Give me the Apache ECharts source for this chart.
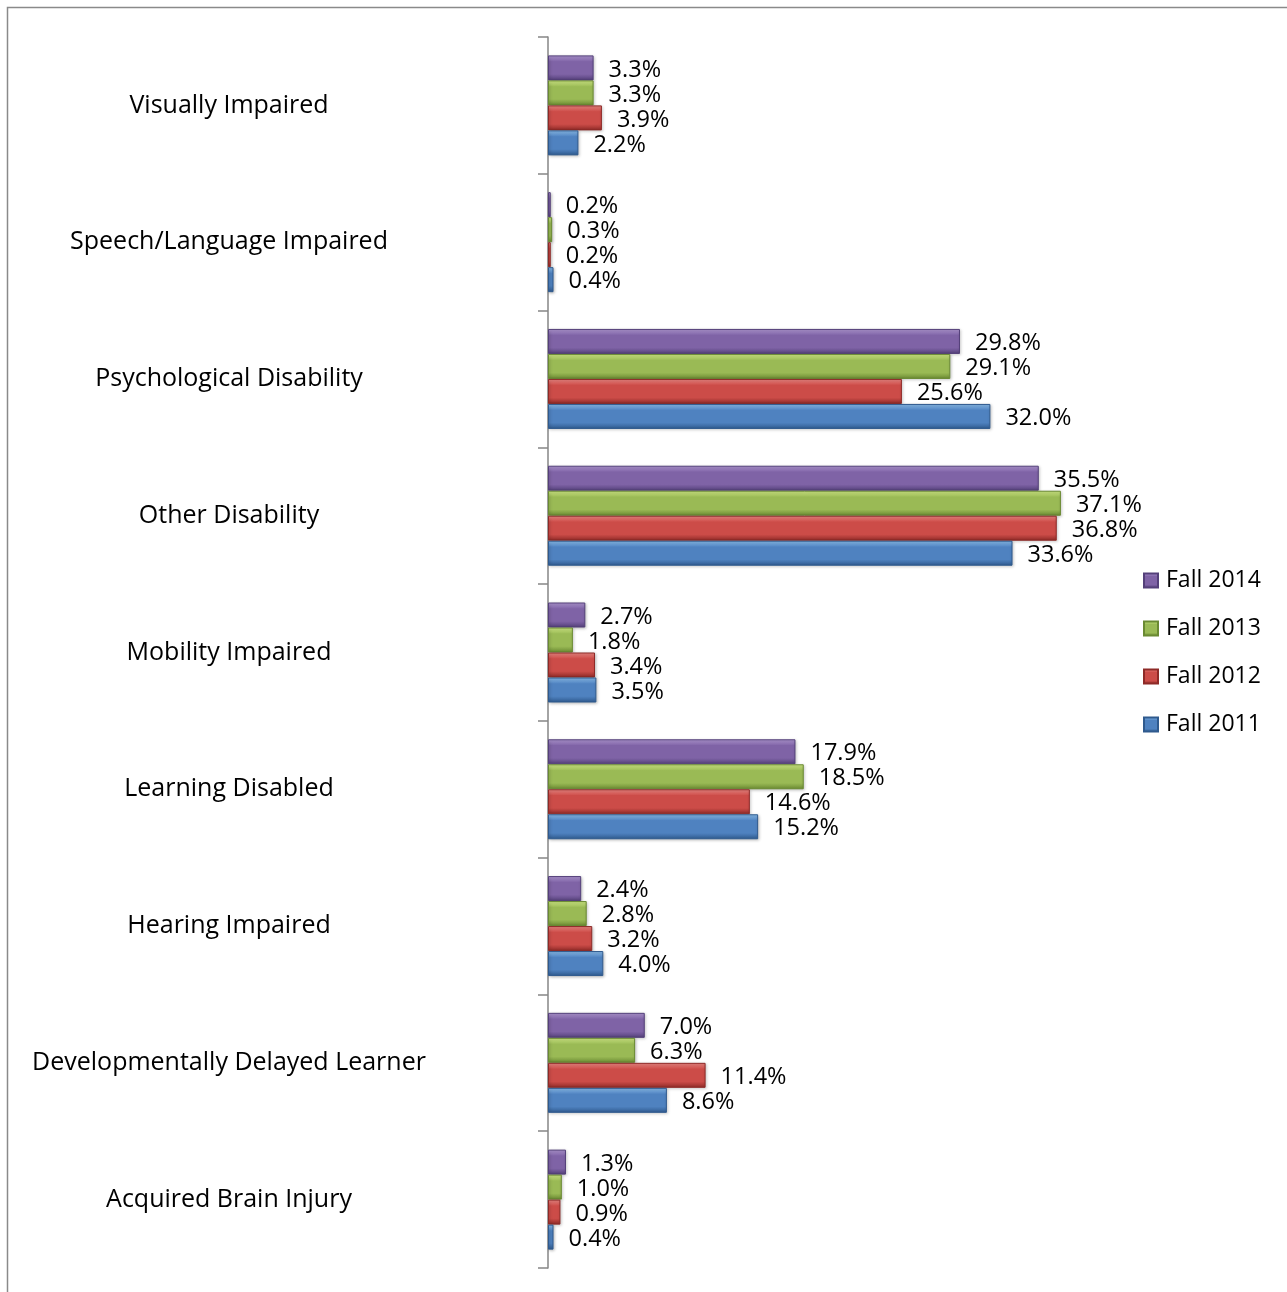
<!DOCTYPE html>
<html><head><meta charset="utf-8">
<script src="https://cdn.jsdelivr.net/npm/echarts@6/dist/echarts.min.js"></script>
<style>html,body{margin:0;padding:0;background:#fff}#c{width:1287px;height:1292px}</style>
</head><body><div id="c"></div>
<script>
const categories = ["Visually Impaired","Speech/Language Impaired","Psychological Disability","Other Disability","Mobility Impaired","Learning Disabled","Hearing Impaired","Developmentally Delayed Learner","Acquired Brain Injury"];
const seriesNames = ["Fall 2014","Fall 2013","Fall 2012","Fall 2011"];
const fall2014 = [3.3,0.2,29.8,35.5,2.7,17.9,2.4,7.0,1.3];
const fall2013 = [3.3,0.3,29.1,37.1,1.8,18.5,2.8,6.3,1.0];
const fall2012 = [3.9,0.2,25.6,36.8,3.4,14.6,3.2,11.4,0.9];
const fall2011 = [2.2,0.4,32.0,33.6,3.5,15.2,4.0,8.6,0.4];
const values = [fall2014, fall2013, fall2012, fall2011];
const palette = [
  {light:'#b39ad6', base:'#7f63a6', dark:'#54407a'},
  {light:'#d4ee88', base:'#9aba55', dark:'#6a8a32'},
  {light:'#f08a86', base:'#cc4c48', dark:'#8e2a27'},
  {light:'#8ec1f0', base:'#4f82c0', dark:'#2f5a8e'}
];
function grad(p){
  return new echarts.graphic.LinearGradient(0,0,0,1,[
    {offset:0,color:p.light},{offset:0.25,color:p.base},{offset:0.75,color:p.base},{offset:1,color:p.dark}
  ]);
}
const font = '"Open Sans", "Noto Sans", sans-serif';
const chart = echarts.init(document.getElementById('c'));
chart.setOption({
  animation:false,
  backgroundColor:'#fff',
  graphic:[{type:'rect',shape:{x:7.5,y:7.5,width:1400,height:1400},style:{fill:'none',stroke:'#8a8a8a',lineWidth:1.5},silent:true}],
  legend:{
    orient:'vertical', left:1138, top:564, itemGap:25, itemWidth:14, itemHeight:14, icon:'rect',
    data:seriesNames,
    textStyle:{fontFamily:font,fontSize:23,color:'#000',padding:[0,0,0,3]}
  },
  grid:{left:548,top:37,width:553,height:1231,containLabel:false},
  xAxis:{type:'value',min:0,max:40,show:false,splitLine:{show:false}},
  yAxis:{type:'category',data:categories,inverse:true,
    axisLine:{lineStyle:{color:'#868686',width:1.5}},
    axisTick:{show:true,length:10,lineStyle:{color:'#868686',width:1.5}},
    axisLabel:{align:'center',margin:319,fontFamily:font,fontSize:25,color:'#000'}
  },
  series: seriesNames.map((n,i)=>({
    name:n,type:'bar',data:values[i],barWidth:25,barGap:'0%',
    itemStyle:{color:grad(palette[i]),borderColor:palette[i].dark,borderWidth:1,shadowColor:'rgba(0,0,0,0.25)',shadowBlur:3,shadowOffsetX:1,shadowOffsetY:1},
    label:{show:true,position:'right',distance:15,offset:[0,2],fontFamily:font,fontSize:23.5,color:'#000',
      formatter:p=>p.value.toFixed(1)+'%'}
  }))
});
</script></body></html>
